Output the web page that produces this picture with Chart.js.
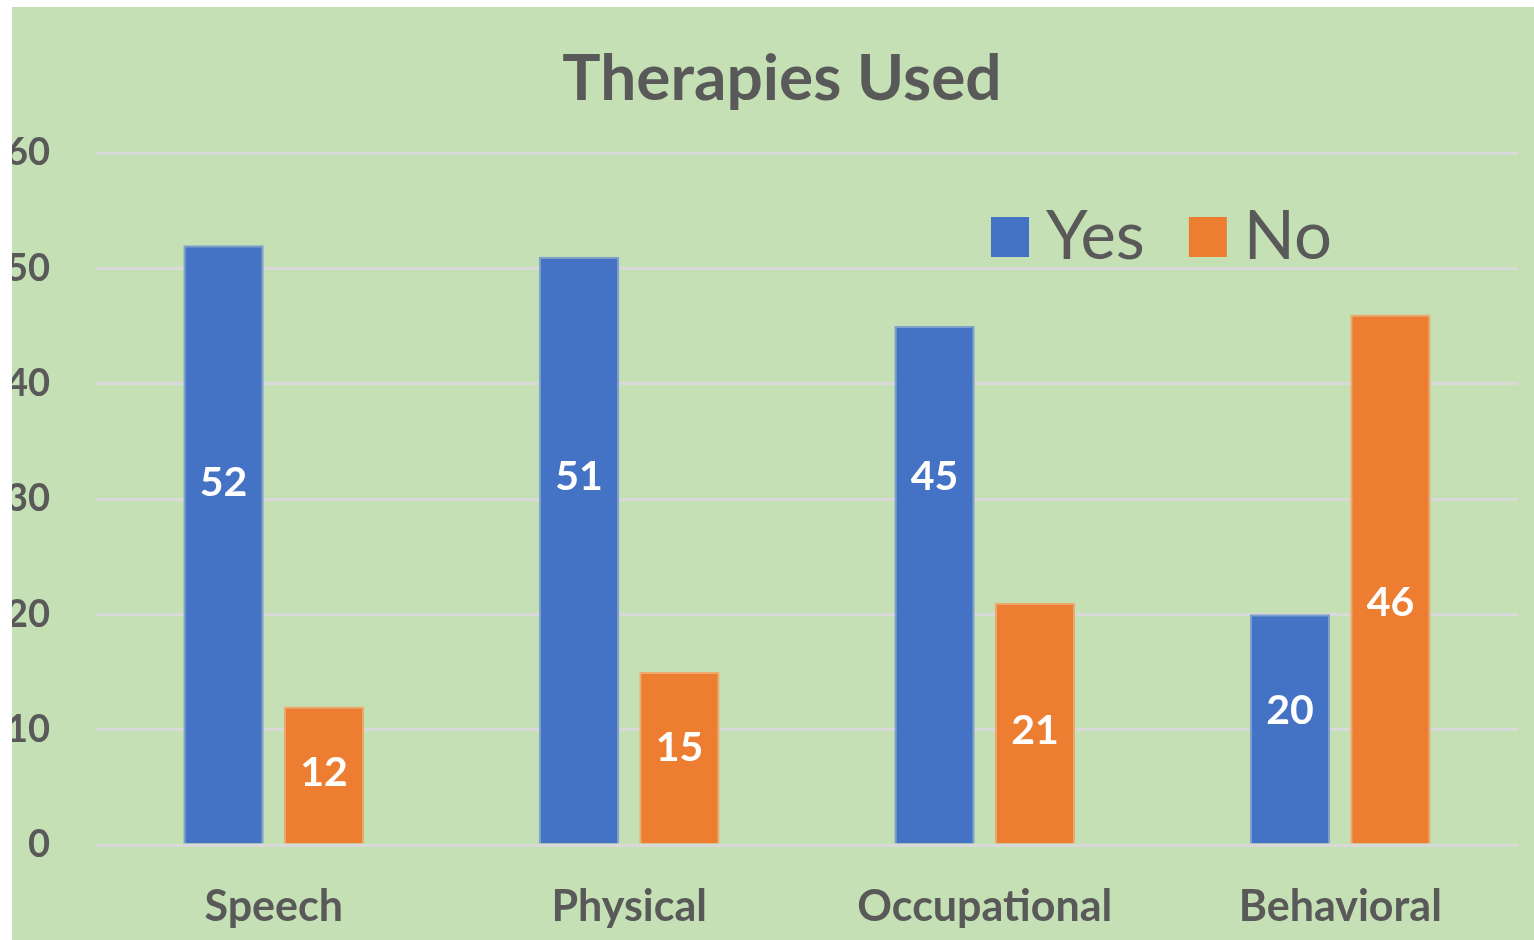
<!DOCTYPE html>
<html>
<head>
<meta charset="utf-8">
<title>Therapies Used</title>
<script src="https://cdn.jsdelivr.net/npm/chart.js@4.4.0/dist/chart.umd.min.js"></script>
<style>
  html, body { margin: 0; padding: 0; background: #ffffff; }
  .chart-box {
    position: absolute;
    left: 12px;
    top: 7px;
    width: 1522px;
    height: 933px;
    background: #c5e0b4;
  }
</style>
</head>
<body>
<div class="chart-box">
  <canvas id="therapyChart" width="1522" height="933"></canvas>
</div>
<script>
// data
const categories = ["Speech", "Physical", "Occupational", "Behavioral"];
const yesValues = [52, 51, 45, 20];
const noValues = [12, 15, 21, 46];
const seriesNames = ["Yes", "No"];
const yTicks = [0, 10, 20, 30, 40, 50, 60];

const textColor = "#595959";
const fontName = "Lato, 'Open Sans', sans-serif";

// nhãn giá trị trong cột (vị trí theo giá trị trục y, như bản gốc)
const labelLevels = [
    [31.4, 31.9, 31.9, 11.6],
    [6.3, 8.4, 9.9, 21]
];

// vẽ tiêu đề
const titlePlugin = {
    id: "titleText",
    afterDraw(chart) {
        const ctx = chart.ctx;
        ctx.save();
        ctx.fillStyle = textColor;
        ctx.font = "bold 64px " + fontName;
        ctx.textAlign = "center";
        ctx.textBaseline = "alphabetic";
        ctx.fillText("Therapies Used", 770, 93);
        ctx.restore();
    }
};

// chú giải nằm trong vùng biểu đồ
const legendPlugin = {
    id: "insideLegend",
    afterDraw(chart) {
        const ctx = chart.ctx;
        ctx.save();
        ctx.font = "67px " + fontName;
        ctx.textBaseline = "alphabetic";
        ctx.textAlign = "left";
        let x = 979;
        chart.data.datasets.forEach(ds => {
            ctx.fillStyle = ds.backgroundColor;
            ctx.fillRect(x, 210, 38, 40);
            ctx.fillStyle = textColor;
            ctx.fillText(ds.label, x + 55, 252);
            x += 55 + ctx.measureText(ds.label).width + 44;
        });
        ctx.restore();
    }
};

// số trên cột
const valueLabelPlugin = {
    id: "valueLabels",
    afterDatasetsDraw(chart) {
        const ctx = chart.ctx;
        const yScale = chart.scales.y;
        ctx.save();
        ctx.fillStyle = "#ffffff";
        ctx.font = "bold 41px " + fontName;
        ctx.textAlign = "center";
        ctx.textBaseline = "middle";
        chart.data.datasets.forEach((ds, i) => {
            chart.getDatasetMeta(i).data.forEach((bar, j) => {
                const y = yScale.getPixelForValue(labelLevels[i][j]);
                ctx.fillText(String(ds.data[j]), bar.x, y);
            });
        });
        ctx.restore();
    }
};

const ctx = document.getElementById("therapyChart").getContext("2d");
new Chart(ctx, {
    type: "bar",
    data: {
        labels: categories,
        datasets: [{
            label: seriesNames[0],
            data: yesValues,
            backgroundColor: "#4472c4",
            borderColor: "#7f9fcc",
            borderWidth: 2,
            barPercentage: 0.8,
            categoryPercentage: 0.565
        }, {
            label: seriesNames[1],
            data: noValues,
            backgroundColor: "#ed7d31",
            borderColor: "#eeaa6e",
            borderWidth: 2,
            barPercentage: 0.8,
            categoryPercentage: 0.565
        }]
    },
    options: {
        responsive: false,
        animation: false,
        layout: {
            padding: { top: 146, right: 16, left: 0, bottom: 0 }
        },
        plugins: {
            legend: { display: false },
            title: { display: false },
            tooltip: { enabled: false }
        },
        scales: {
            x: {
                grid: { display: false },
                border: { display: false },
                ticks: {
                    color: textColor,
                    font: { family: fontName, size: 43, weight: "bold" },
                    padding: 28,
                    maxRotation: 0
                },
                afterFit(scale) { scale.height = 95; }
            },
            y: {
                min: 0,
                max: 60,
                afterBuildTicks(scale) {
                    scale.ticks = yTicks.map(v => ({ value: v }));
                },
                grid: {
                    color: "#d9d9d9",
                    lineWidth: 3,
                    drawTicks: false
                },
                border: { display: false },
                ticks: {
                    color: textColor,
                    font: { family: fontName, size: 38, weight: "bold" },
                    padding: 46
                },
                afterFit(scale) { scale.width = 84; }
            }
        }
    },
    plugins: [titlePlugin, legendPlugin, valueLabelPlugin]
});
</script>
</body>
</html>
